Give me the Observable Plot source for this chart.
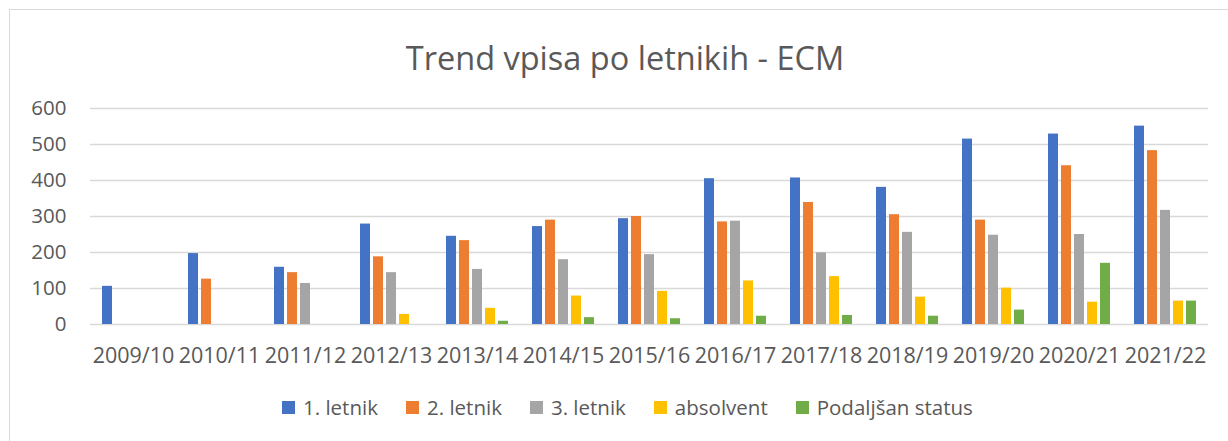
<!DOCTYPE html>
<html>
<head>
<meta charset="utf-8">
<script src="https://cdn.jsdelivr.net/npm/d3@7"></script>
<script src="https://cdn.jsdelivr.net/npm/@observablehq/plot@0.6"></script>
<style>
  html, body { margin: 0; padding: 0; background: #fff; overflow: hidden; }
  #wrap { position: relative; width: 1228px; height: 441px; overflow: hidden; font-family: "Open Sans", sans-serif; color: #595959; }
  #frame { position: absolute; left: 9px; top: 9px; width: 1400px; height: 600px; border: 1px solid #d9d9d9; box-sizing: border-box; }
  #title { position: absolute; left: 0; width: 1250px; top: 42px; text-align: center; font-size: 32.5px; line-height: 32px; white-space: nowrap; }
  #chart { position: absolute; left: 0; top: 80px; width: 1228px; }
  #chart svg text { font-size: 20.5px; font-family: "Open Sans", sans-serif; fill: #595959; }
  #chart svg g[aria-label^="fx-axis"] text { font-size: 21.5px; }
  #legend { position: absolute; left: 282px; top: 397px; display: flex; align-items: center; font-size: 20.5px; line-height: 21px; white-space: nowrap; }
  .item { display: flex; align-items: center; margin-right: 28px; }
  .sw { width: 13px; height: 13px; margin-right: 8px; }
</style>
</head>
<body>
<div id="wrap">
  <div id="frame"></div>
  <div id="title">Trend vpisa po letnikih - ECM</div>
  <div id="chart"></div>
  <div id="legend"></div>
</div>
<script>
const years = ["2009/10","2010/11","2011/12","2012/13","2013/14","2014/15","2015/16","2016/17","2017/18","2018/19","2019/20","2020/21","2021/22"];
const series = ["1. letnik","2. letnik","3. letnik","absolvent","Podaljšan status"];
const colors = ["#4472C4","#ED7D31","#A5A5A5","#FFC000","#70AD47"];
const letnik1   = [106,197,159,279,245,272,294,405,407,381,515,529,551];
const letnik2   = [null,126,144,188,233,290,300,285,339,305,290,441,483];
const letnik3   = [null,null,114,144,153,180,194,287,199,256,248,250,317];
const absolvent = [null,null,null,28,45,79,92,121,133,76,101,62,65];
const podaljsan = [null,null,null,null,9,19,16,23,25,23,40,170,65];
const yTicks = [0,100,200,300,400,500,600];

const seriesValues = [letnik1, letnik2, letnik3, absolvent, podaljsan];
const data = [];
years.forEach((yr, i) => {
  series.forEach((s, j) => {
    const v = seriesValues[j][i];
    if (v != null) data.push({year: yr, series: s, value: v});
  });
});

const chart = Plot.plot({
  width: 1228,
  height: 295,
  marginLeft: 85,
  marginRight: 16,
  marginTop: 28,
  marginBottom: 51,
  style: {fontFamily: "Open Sans, sans-serif", fontSize: "20.5px", color: "#595959", background: "transparent", overflow: "visible"},
  fx: {domain: years, padding: 0, label: null, tickSize: 0, tickPadding: 23, axis: "bottom"},
  x: {domain: series, paddingInner: 0.2, paddingOuter: 0.85, axis: null},
  y: {domain: [0, 600], ticks: yTicks, label: null, tickSize: 0, tickPadding: 24},
  color: {domain: series, range: colors},
  marks: [
    Plot.ruleY(yTicks, {stroke: "#d9d9d9", strokeWidth: 1.5}),
    Plot.barY(data, {fx: "year", x: "series", y: "value", fill: "series"})
  ]
});
document.getElementById("chart").appendChild(chart);

const legend = document.getElementById("legend");
series.forEach((s, j) => {
  const it = document.createElement("div");
  it.className = "item";
  const sw = document.createElement("div");
  sw.className = "sw";
  sw.style.background = colors[j];
  const t = document.createElement("span");
  t.textContent = s;
  it.appendChild(sw);
  it.appendChild(t);
  legend.appendChild(it);
});
</script>
</body>
</html>
